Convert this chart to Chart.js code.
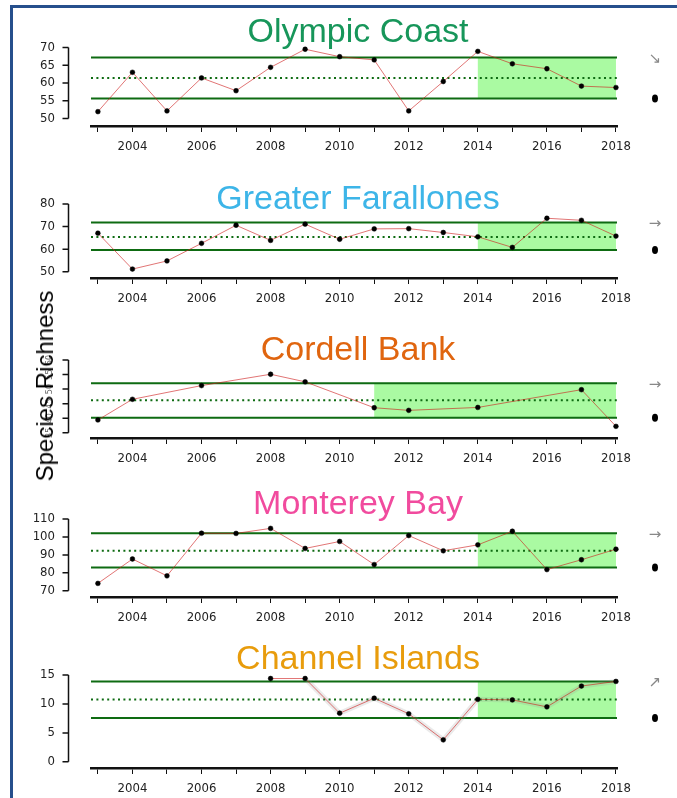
<!DOCTYPE html>
<html>
<head>
<meta charset="utf-8">
<script src="https://cdn.jsdelivr.net/npm/chart.js@4.4.1/dist/chart.umd.min.js"></script>
<style>
  html, body { margin: 0; padding: 0; background: #fff; }
  body { width: 677px; height: 798px; position: relative; overflow: hidden; font-family: 'Liberation Sans', Arial, sans-serif; }
  #moldura { position: absolute; left: 10px; top: 5px; right: 0; bottom: -5px; border-top: 3px solid #264f8c; border-left: 3px solid #264f8c; }
  canvas { position: absolute; left: 0; }
  .titulo { position: absolute; left: 358px; transform: translateX(-50%); font-size: 34px; line-height: 34px; white-space: nowrap; }
  #eixoY { position: absolute; left: 45px; top: 386px; transform: translate(-50%, -50%) rotate(-90deg); font-size: 24px; line-height: 24px; white-space: nowrap; color: #000; }
</style>
</head>
<body>
<div id="moldura"></div>

<script>
// dados
const years = [2003, 2004, 2005, 2006, 2007, 2008, 2009, 2010, 2011, 2012, 2013, 2014, 2015, 2016, 2017, 2018];
const olympicCoast = [51.9, 63.0, 52.1, 61.4, 57.8, 64.4, 69.5, 67.4, 66.5, 52.1, 60.4, 68.9, 65.4, 64.0, 59.1, 58.7];
const greaterFarallones = [67.1, 51.2, 54.8, 62.6, 70.6, 63.9, 71.1, 64.4, 69.0, 69.1, 67.4, 65.5, 60.8, 73.7, 72.8, 65.8];
const cordellYears = [2003, 2004, 2006, 2008, 2009, 2011, 2012, 2014, 2017, 2018];
const cordellBank = [39.4, 46.5, 51.2, 55.1, 52.5, 43.6, 42.7, 43.7, 49.8, 37.2];
const montereyBay = [74.1, 87.7, 78.3, 102.1, 102.0, 104.8, 93.6, 97.5, 84.6, 100.8, 92.3, 95.6, 103.2, 81.8, 87.3, 93.2];
const channelYears = [2008, 2009, 2010, 2011, 2012, 2013, 2014, 2015, 2016, 2017, 2018];
const channelIslands = [14.4, 14.4, 8.4, 11.0, 8.3, 3.8, 10.8, 10.7, 9.5, 13.1, 13.9];

const panelTitles = ['Olympic Coast', 'Greater Farallones', 'Cordell Bank', 'Monterey Bay', 'Channel Islands'];
const upperLimits = [67.2, 71.8, 52.0, 102.1, 13.9];
const meanLines = [61.4, 65.4, 46.2, 92.3, 10.76];
const lowerLimits = [55.6, 59.6, 40.2, 82.9, 7.56];
const shadeStartYears = [2014, 2014, 2011, 2014, 2014];
const trendArrows = ['\u2198', '\u2192', '\u2192', '\u2192', '\u2197'];

const olympicTicks = [50, 55, 60, 65, 70];
const farallonesTicks = [50, 60, 70, 80];
const cordellTicks = [35, 40, 45, 50, 55, 60];
const montereyTicks = [70, 80, 90, 100, 110];
const channelTicks = [0, 5, 10, 15];
const yearTicks = years;

// layout de cada painel (pixels e faixas dos eixos)
const paineis = [
  { xs: years, ys: olympicCoast, ticks: olympicTicks, top: 31, h: 125, yMin: 47.85, yMax: 71.6, titleBase: 41.5, cor: '#17965a' },
  { xs: years, ys: greaterFarallones, ticks: farallonesTicks, top: 187, h: 121, yMin: 47.25, yMax: 82.76, titleBase: 209, cor: '#3db5e8' },
  { xs: cordellYears, ys: cordellBank, ticks: cordellTicks, top: 344, h: 124, yMin: 33.2, yMax: 62.06, titleBase: 359.5, cor: '#e0650f', rot: true },
  { xs: years, ys: montereyBay, ticks: montereyTicks, top: 502, h: 125, yMin: 66.5, yMax: 113.5, titleBase: 513.5, cor: '#f14b9e' },
  { xs: channelYears, ys: channelIslands, ticks: channelTicks, top: 658, h: 140, yMin: -1.07, yMax: 16.08, titleBase: 668.5, cor: '#e89c0c', fita: true }
];

const fonteNarrow = "'Liberation Sans Narrow', 'Arial Narrow', 'DejaVu Sans Condensed', 'Liberation Sans', Arial, sans-serif";

const faixas = {
  id: 'faixas',
  beforeDatasetsDraw(chart, args, opts) {
    const ctx = chart.ctx;
    const area = chart.chartArea;
    const x = chart.scales.x, y = chart.scales.y;
    const yUp = y.getPixelForValue(opts.upper);
    const yLow = y.getPixelForValue(opts.lower);
    const yMean = y.getPixelForValue(opts.mean);
    ctx.save();
    // area verde
    const x0 = x.getPixelForValue(opts.shadeFrom);
    const x1 = x.getPixelForValue(yearTicks[yearTicks.length - 1]);
    ctx.fillStyle = 'rgb(170,250,162)';
    ctx.fillRect(x0, yUp, x1 - x0, yLow - yUp);
    // linhas de referencia
    ctx.strokeStyle = '#0e6b12';
    ctx.lineWidth = 2;
    ctx.beginPath();
    ctx.moveTo(area.left, yUp); ctx.lineTo(area.right, yUp);
    ctx.moveTo(area.left, yLow); ctx.lineTo(area.right, yLow);
    ctx.stroke();
    ctx.setLineDash([2, 3.4]);
    ctx.beginPath();
    ctx.moveTo(area.left, yMean); ctx.lineTo(area.right, yMean);
    ctx.stroke();
    ctx.setLineDash([]);
    // eixo y no estilo do R
    const ax = area.left - 22.5;
    const tks = opts.ticks;
    ctx.strokeStyle = '#111';
    ctx.lineWidth = 1.5;
    ctx.beginPath();
    ctx.moveTo(ax, y.getPixelForValue(tks[0]));
    ctx.lineTo(ax, y.getPixelForValue(tks[tks.length - 1]));
    tks.forEach(function (v) {
      const py = y.getPixelForValue(v);
      ctx.moveTo(ax - 6, py); ctx.lineTo(ax, py);
    });
    ctx.stroke();
    if (opts.rotated) {
      ctx.fillStyle = '#666';
      ctx.font = '9px ' + fonteNarrow;
      ctx.textAlign = 'center';
      ctx.textBaseline = 'middle';
      tks.forEach(function (v) {
        ctx.save();
        ctx.translate(ax - 19, y.getPixelForValue(v));
        ctx.rotate(-Math.PI / 2);
        ctx.fillText(String(v), 0, 0);
        ctx.restore();
      });
    }
    ctx.restore();
  },
  afterDraw(chart, args, opts) {
    const ctx = chart.ctx;
    const area = chart.chartArea;
    const y = chart.scales.y;
    const px = area.right + 38;
    ctx.save();
    ctx.fillStyle = '#888';
    ctx.font = '15px "DejaVu Sans"';
    ctx.textAlign = 'center';
    ctx.textBaseline = 'middle';
    ctx.fillText(opts.arrow, px, y.getPixelForValue(opts.upper) + 2);
    ctx.fillStyle = '#000';
    ctx.beginPath();
    ctx.ellipse(px, y.getPixelForValue(opts.lower), 3, 4, 0, 0, Math.PI * 2);
    ctx.fill();
    ctx.restore();
  }
};

function montarPainel(p, i) {
  const canvas = document.createElement('canvas');
  canvas.width = 677;
  canvas.height = p.h;
  canvas.style.top = p.top + 'px';
  canvas.style.width = '677px';
  canvas.style.height = p.h + 'px';
  document.body.appendChild(canvas);

  const pontos = p.xs.map(function (ano, k) { return { x: ano, y: p.ys[k] }; });
  const datasets = [{
    data: pontos,
    borderColor: 'rgba(205,25,25,0.6)',
    borderWidth: 1,
    pointRadius: 2.4,
    pointBackgroundColor: '#000',
    pointBorderColor: '#000',
    pointBorderWidth: 0.5,
    tension: 0,
    clip: false
  }];
  if (p.fita) {
    datasets.push({
      data: pontos.slice(1),
      borderColor: 'rgba(150,150,150,0.2)',
      borderWidth: 5,
      pointRadius: 0,
      tension: 0,
      clip: false
    });
  }

  new Chart(canvas.getContext('2d'), {
    type: 'line',
    data: { datasets: datasets },
    plugins: [faixas],
    options: {
      responsive: false,
      devicePixelRatio: 1,
      animation: false,
      layout: { padding: { left: 0, right: 60, top: 10, bottom: 0 } },
      plugins: {
        legend: { display: false },
        tooltip: { enabled: false },
        faixas: {
          upper: upperLimits[i], mean: meanLines[i], lower: lowerLimits[i],
          shadeFrom: shadeStartYears[i], arrow: trendArrows[i],
          ticks: p.ticks, rotated: !!p.rot
        }
      },
      scales: {
        x: {
          type: 'linear',
          bounds: 'data',
          min: 2002.8,
          max: 2018.03,
          afterBuildTicks: function (scale) { scale.ticks = yearTicks.map(function (v) { return { value: v }; }); },
          afterFit: function (scale) { scale.height = 30; },
          grid: { drawOnChartArea: false, drawTicks: true, tickLength: 6, color: '#111', lineWidth: 1 },
          border: { display: true, color: '#111', width: 2.5 },
          ticks: {
            autoSkip: false, maxRotation: 0, minRotation: 0, padding: 7,
            color: '#222',
            font: { family: fonteNarrow, size: 13 },
            callback: function (v) { return v % 2 === 0 ? String(v) : ''; }
          }
        },
        y: {
          type: 'linear',
          bounds: 'data',
          min: p.yMin,
          max: p.yMax,
          afterBuildTicks: function (scale) { scale.ticks = p.ticks.map(function (v) { return { value: v }; }); },
          afterFit: function (scale) { scale.width = 91; },
          // marcas invisiveis so para afastar os rotulos do eixo
          grid: { display: false, drawTicks: true, tickLength: 33 },
          border: { display: false },
          ticks: {
            display: !p.rot,
            autoSkip: false, padding: 3,
            color: '#222',
            font: { family: fonteNarrow, size: 13 },
            callback: function (v) { return String(v); }
          }
        }
      }
    }
  });

  const t = document.createElement('div');
  t.className = 'titulo';
  t.textContent = panelTitles[i];
  t.style.color = p.cor;
  t.style.top = (p.titleBase - 28.8) + 'px';
  document.body.appendChild(t);
}

paineis.forEach(montarPainel);

const rotulo = document.createElement('div');
rotulo.id = 'eixoY';
rotulo.textContent = 'Species Richness';
document.body.appendChild(rotulo);
</script>
</body>
</html>
